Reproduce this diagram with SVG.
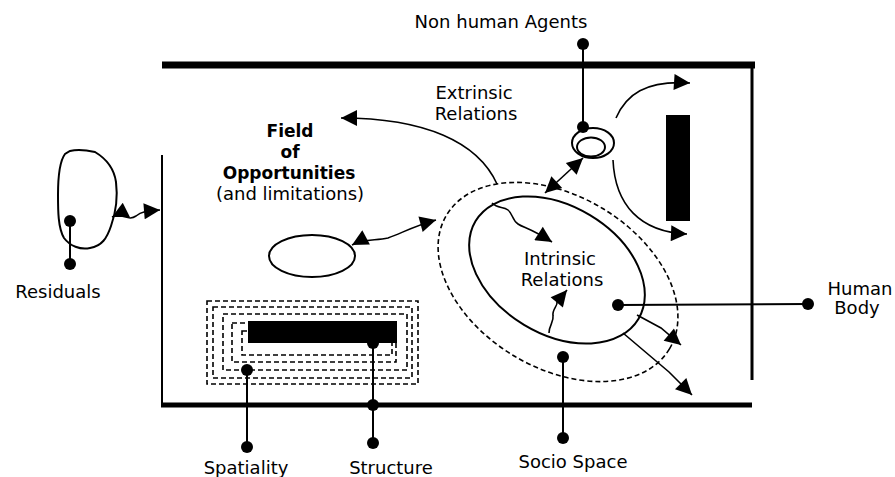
<svg xmlns="http://www.w3.org/2000/svg" width="895" height="477" viewBox="0 0 895 477">
<style>
text{font-family:"DejaVu Sans","Verdana",sans-serif;font-size:18px;fill:#000}
.b{font-weight:bold;font-size:17px}
.ln{fill:none;stroke:#000;stroke-width:2}
.dash{fill:none;stroke:#000;stroke-width:1.6;stroke-dasharray:5 3}
.dot{fill:#000}
.arr{fill:none;stroke:#000;stroke-width:1.6;marker-end:url(#ah)}
.darr{fill:none;stroke:#000;stroke-width:1.6;marker-start:url(#ah);marker-end:url(#ah)}
</style>
<defs>
<marker id="ah" viewBox="0 0 10 10" refX="10" refY="5" markerWidth="18" markerHeight="16" markerUnits="userSpaceOnUse" orient="auto-start-reverse"><path d="M0,0 L10,5 L0,10 z" fill="#000"/></marker>
</defs>
<rect width="895" height="477" fill="#fff"/>
<g id="frame">
<line x1="162" y1="65" x2="755" y2="65" stroke="#000" stroke-width="7"/>
<line x1="752" y1="65" x2="752" y2="380" stroke="#000" stroke-width="3"/>
<line x1="162" y1="155" x2="162" y2="407" stroke="#000" stroke-width="2"/>
<line x1="161" y1="405" x2="752" y2="405" stroke="#000" stroke-width="5"/>
</g>
<g id="residuals">
<path class="ln" d="M70,151 C78,149 86,150 95,152 C105,158 114,168 116,182 C118,198 116,212 111,226 C107,238 102,246 90,248 C80,250 70,246 64,238 C58,228 58,210 58,195 C58,178 59,162 65,154 Z"/>
<line class="ln" x1="70" y1="221" x2="70" y2="264"/>
<circle class="dot" cx="70" cy="221" r="6"/>
<circle class="dot" cx="70" cy="264" r="6"/>
<text x="58" y="298" text-anchor="middle">Residuals</text>
</g>
<g id="field">
<text class="b" x="290" y="137" text-anchor="middle">Field</text>
<text class="b" x="290" y="158" text-anchor="middle">of</text>
<text class="b" x="289" y="179" text-anchor="middle">Opportunities</text>
<text x="290" y="200" text-anchor="middle">(and limitations)</text>
</g>
<g id="small-ellipse">
<ellipse class="ln" cx="312" cy="256" rx="43" ry="21"/>
</g>
<g id="spatiality">
<rect class="dash" x="207" y="301" width="211" height="83"/>
<rect class="dash" x="213" y="307" width="199" height="71"/>
<rect class="dash" x="223" y="314" width="184" height="56"/>
<rect class="dash" x="232" y="323" width="164" height="39"/>
<rect class="dash" x="242" y="331" width="150" height="24"/>
<rect x="248" y="321" width="149" height="22" fill="#000"/>
<line class="ln" x1="247" y1="370" x2="247" y2="447"/>
<circle class="dot" cx="247" cy="370" r="6"/>
<circle class="dot" cx="247" cy="447" r="6"/>
<text x="246" y="474" text-anchor="middle">Spatiality</text>
</g>
<g id="structure">
<line class="ln" x1="373" y1="343" x2="373" y2="443"/>
<circle class="dot" cx="373" cy="343" r="6"/>
<circle class="dot" cx="373" cy="405" r="6"/>
<circle class="dot" cx="373" cy="443" r="6"/>
<text x="391" y="474" text-anchor="middle">Structure</text>
</g>
<g id="socio-space">
<ellipse class="dash" cx="558" cy="282" rx="130" ry="86" transform="rotate(31 558 282)"/>
<line class="ln" x1="563" y1="357" x2="563" y2="438"/>
<circle class="dot" cx="563" cy="357" r="6"/>
<circle class="dot" cx="563" cy="438" r="6"/>
<text x="573" y="468" text-anchor="middle">Socio Space</text>
</g>
<g id="intrinsic">
<ellipse class="ln" cx="557" cy="270" rx="95" ry="64" transform="rotate(31 557 270)"/>
<text x="560" y="265" text-anchor="middle">Intrinsic</text>
<text x="562" y="286" text-anchor="middle">Relations</text>
</g>
<g id="extrinsic">
<text x="474" y="99" text-anchor="middle">Extrinsic</text>
<text x="476" y="120" text-anchor="middle">Relations</text>
</g>
<g id="non-human-agents">
<text x="501" y="28" text-anchor="middle">Non human Agents</text>
<line class="ln" x1="583" y1="44" x2="583" y2="127"/>
<ellipse class="ln" cx="593" cy="143" rx="21" ry="15"/>
<ellipse class="ln" cx="591" cy="147" rx="14" ry="9.5"/>
<circle class="dot" cx="583" cy="44" r="6"/>
<circle class="dot" cx="583" cy="127" r="6"/>
</g>
<g id="bar">
<rect x="666" y="115" width="24" height="106" fill="#000"/>
</g>
<g id="human-body">
<line class="ln" x1="618" y1="305" x2="808" y2="304"/>
<circle class="dot" cx="618" cy="305" r="6"/>
<circle class="dot" cx="808" cy="304" r="6"/>
<text x="860" y="295" text-anchor="middle">Human</text>
<text x="857" y="314" text-anchor="middle">Body</text>
</g>
<g id="connectors">
<path class="darr" d="M112,217 C122,212 128,222 136,216 C142,211 148,211 160,210"/>
<path class="darr" d="M352,245 C365,238 375,241 388,238 C402,233 414,226 436,220"/>
<path class="arr" d="M497,184 C478,142 425,118 341,118"/>
<path class="darr" d="M545,193 L583,158"/>
<path class="arr" d="M616,118 C626,95 645,80 690,83"/>
<path class="arr" d="M613,160 C615,205 640,232 687,234"/>
<path class="arr" d="M492,203 C498,209 503,206 508,210 C513,214 512,220 518,224 C524,228 530,228 552,242"/>
<path class="arr" d="M549,333 C549,325 554,322 553,316 C552,309 558,306 557,302 L567,290"/>
<path class="arr" d="M637,315 L661,328 L681,345"/>
<path class="arr" d="M623,333 L669,372 L692,395"/>
</g>
</svg>
